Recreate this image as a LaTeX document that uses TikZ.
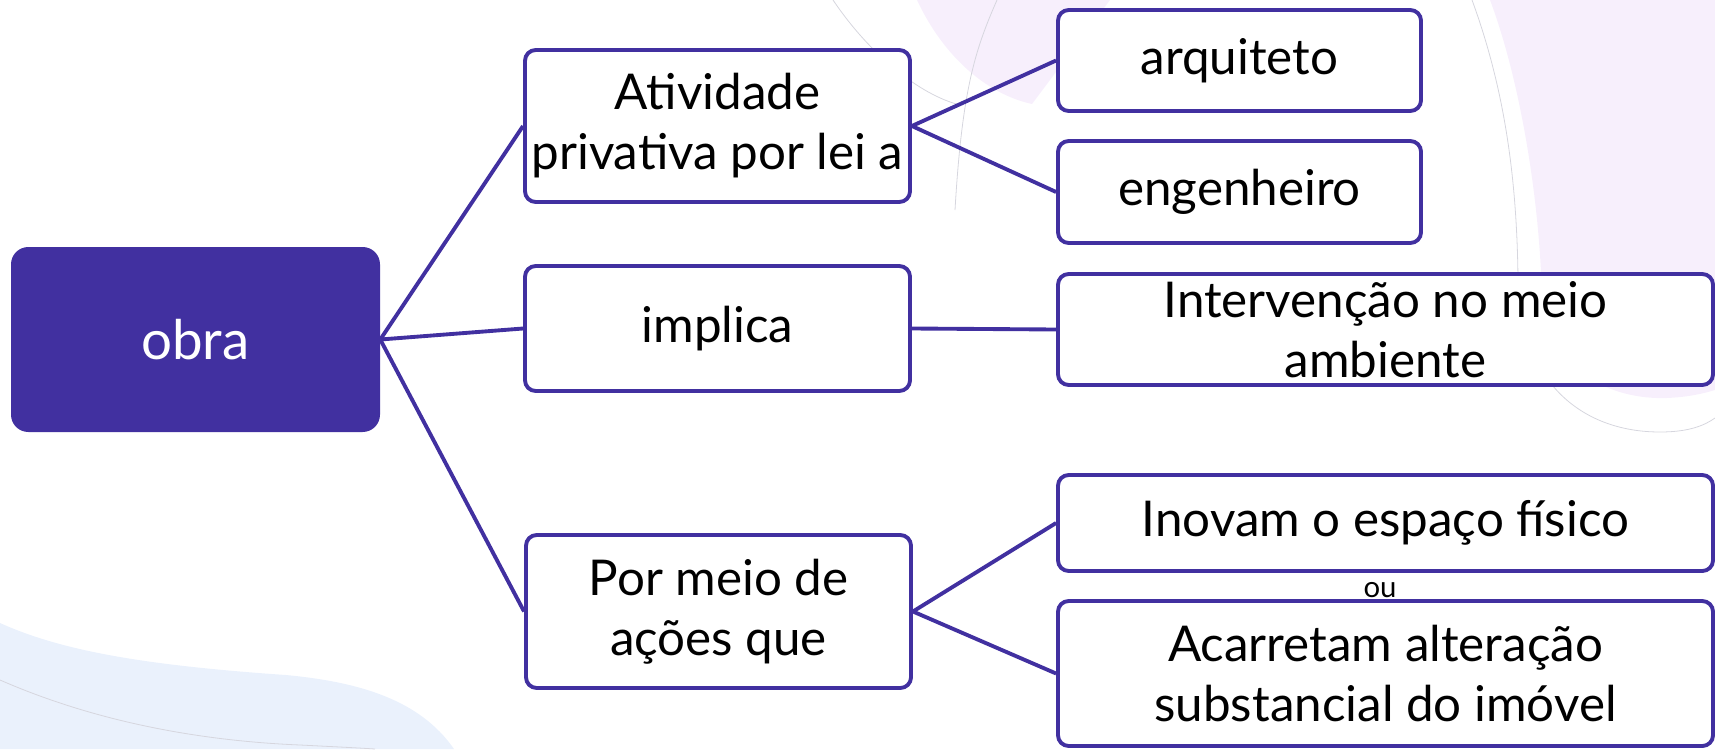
\documentclass[tikz,border=0pt]{standalone}
\usepackage{fontspec}
\setmainfont{Lato}
\definecolor{mainpurple}{HTML}{4130A0}
\definecolor{lavender}{HTML}{F7EFFC}
\definecolor{paleblue}{HTML}{EAF1FC}
\definecolor{faintgrey}{HTML}{D6D6DE}
\begin{document}
\begin{tikzpicture}[x=0.75pt,y=-0.75pt,
  box/.style={draw=mainpurple,line width=2.9pt,fill=white,rounded corners=8pt,
    align=center,inner sep=0pt,font=\fontsize{37}{45}\selectfont,text=black},
  rootbox/.style={fill=mainpurple,rounded corners=13pt,inner sep=0pt,
    font=\fontsize{41}{48}\selectfont,text=white},
  link/.style={draw=mainpurple,line width=2.9pt},
  bgline/.style={draw=faintgrey,line width=0.6pt}]
\useasboundingbox (0,0) rectangle (1715,749);
% background shapes
\fill[lavender] (917,0) .. controls (945,60) and (990,95) .. (1032,104)
  .. controls (1050,80) and (1080,40) .. (1110,0) -- cycle;
\fill[lavender] (1490,0) .. controls (1520,80) and (1540,200) .. (1542,300)
  .. controls (1550,370) and (1610,400) .. (1667,398)
  .. controls (1690,397) and (1705,393) .. (1715,390) -- (1715,0) -- cycle;
\fill[paleblue] (0,623) .. controls (60,650) and (140,665) .. (286,675)
  .. controls (360,682) and (420,700) .. (454,749) -- (0,749) -- cycle;
\draw[bgline] (833,0) .. controls (870,55) and (920,95) .. (960,105);
\draw[bgline] (997,0) .. controls (975,50) and (962,90) .. (955,210);
\draw[bgline] (1472,0) .. controls (1505,90) and (1517,180) .. (1518,280)
  .. controls (1520,380) and (1580,432) .. (1660,432)
  .. controls (1690,432) and (1705,425) .. (1715,418);
\draw[bgline] (0,680) .. controls (80,715) and (180,740) .. (300,745)
  .. controls (340,747) and (360,748) .. (375,749);
% nodes
\node[rootbox,minimum width=276.75pt,minimum height=138.75pt] (obra) at (195.5,339.5) {obra};
\node[box,minimum width=288.75pt,minimum height=114pt] (atv) at (717.5,126) {Atividade\\privativa por lei a};
\node[box,minimum width=288.75pt,minimum height=93.75pt] (impl) at (717.5,328.5) {implica};
\node[box,minimum width=288.75pt,minimum height=114.75pt] (por) at (718.5,611.5) {Por meio de\\ações que};
\node[box,minimum width=272.25pt,minimum height=75.75pt] (arq) at (1239.5,60.5) {arquiteto};
\node[box,minimum width=272.25pt,minimum height=76.5pt] (eng) at (1239.5,192) {engenheiro};
\node[box,minimum width=491.25pt,minimum height=83.25pt] (int) at (1385.5,329.5) {Intervenção no meio\\ambiente};
\node[box,minimum width=491.25pt,minimum height=72pt] (ino) at (1385.5,523) {Inovam o espaço físico};
\node[box,minimum width=491.25pt,minimum height=108.75pt] (aca) at (1385.5,673.5) {Acarretam alteração\\substancial do imóvel};
\node[font=\fontsize{22}{24}\selectfont,inner sep=0pt] (ou) at (1380,590) {ou};
% connectors
\draw[link] (obra.east) -- (atv.west);
\draw[link] (obra.east) -- (impl.west);
\draw[link] (obra.east) -- (por.west);
\draw[link] (atv.east) -- (arq.west);
\draw[link] (atv.east) -- (eng.west);
\draw[link] (impl.east) -- (int.west);
\draw[link] (por.east) -- (ino.west);
\draw[link] (por.east) -- (aca.west);
\end{tikzpicture}
\end{document}
